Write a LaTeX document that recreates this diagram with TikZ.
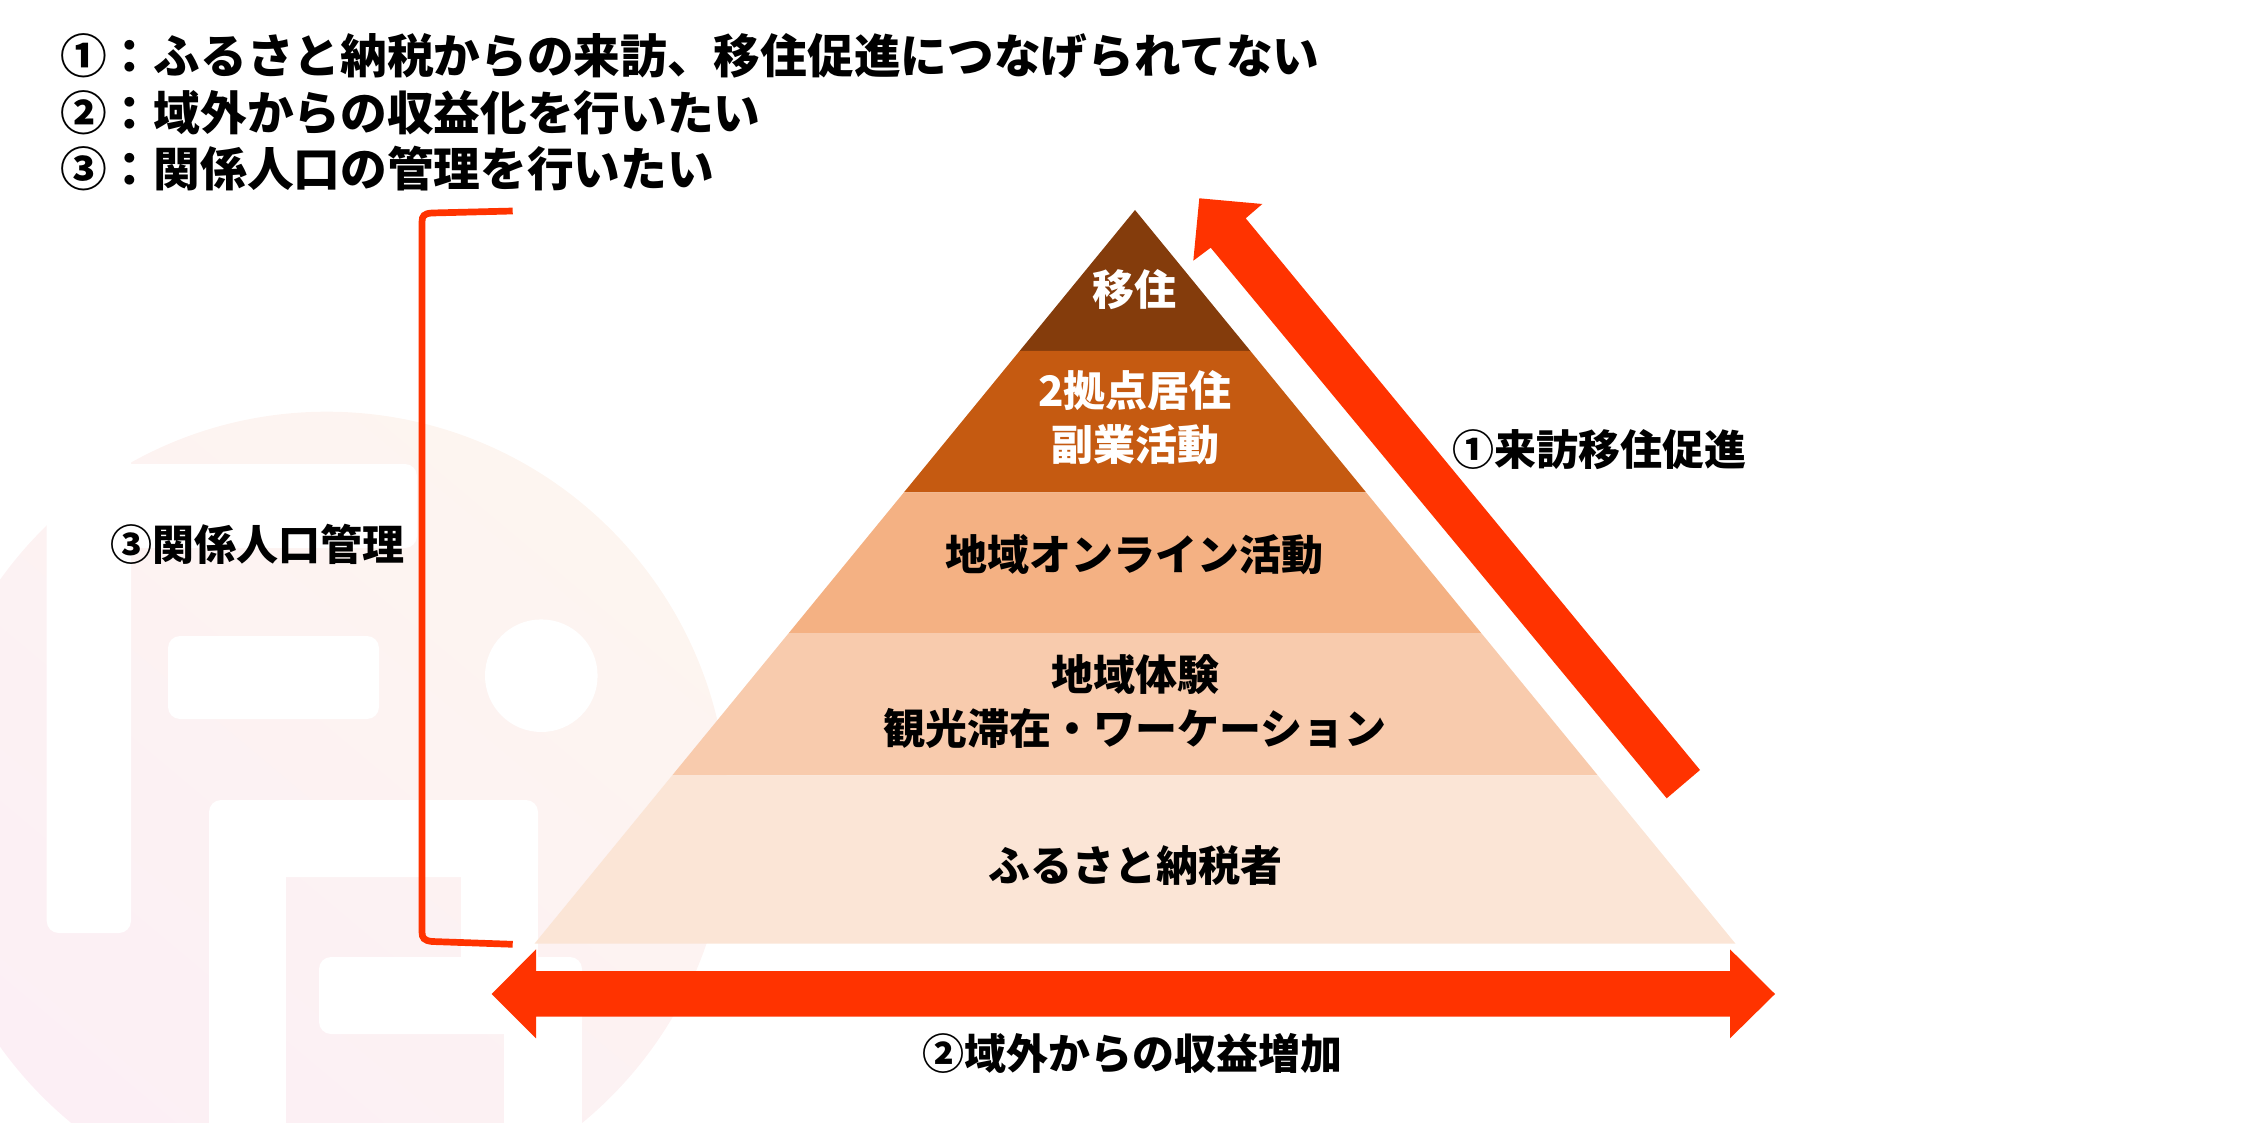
\documentclass[tikz,border=0pt]{standalone}
\usepackage{fontspec}
\newfontfamily\jp{Noto Sans CJK JP}
\definecolor{arrowred}{HTML}{FF3300}
\definecolor{layA}{HTML}{843C0C}
\definecolor{layB}{HTML}{C55A11}
\definecolor{layC}{HTML}{F4B183}
\definecolor{layD}{HTML}{F8CBAD}
\definecolor{layE}{HTML}{FBE5D6}
\definecolor{logopeach}{RGB}{253,245,240}
\definecolor{logopink}{RGB}{252,239,245}
\begin{document}
\begin{tikzpicture}[x=1pt,y=-1pt,
  headtext/.style={font=\jp\bfseries\fontsize{46.7}{56}\selectfont, anchor=west, inner sep=0pt},
  lbltext/.style={font=\jp\bfseries\fontsize{42}{54}\selectfont, inner sep=0pt, align=center},
  logohole/.style={fill=white},
  bigarrow/.style={fill=arrowred}]
\useasboundingbox (0,0) rectangle (2247,1123);
\clip (0,0) rectangle (2247,1123);

% background logo
\shade[top color=logopeach, bottom color=logopink, shading angle=-40] (326.7,813.2) circle[radius=401.5];
\fill[logohole, rounded corners=12] (46.7,380) rectangle (131,933);
\fill[logohole, rounded corners=12] (100,464) rectangle (417,548);
\fill[logohole, rounded corners=12] (168,636) rectangle (379,719);
\fill[logohole] (541.3,675.7) circle[radius=56.3];
\fill[logohole, rounded corners=12] (209,800) rectangle (538,877);
\fill[logohole] (209,840) rectangle (286,1130);
\fill[logohole] (461,840) rectangle (538,970);
\fill[logohole, rounded corners=12] (319,957) rectangle (582,1034);
\fill[logohole] (504,1000) rectangle (582,1130);

% headings
\node[headtext] (h1) at (60,56) {①：ふるさと納税からの来訪、移住促進につなげられてない};
\node[headtext] (h2) at (60,113) {②：域外からの収益化を行いたい};
\node[headtext] (h3) at (60,169) {③：関係人口の管理を行いたい};

% pyramid
\fill[layA] (1135,210) -- (1250.4,351) -- (1019.6,351) -- cycle;
\fill[layB] (1019.6,351) -- (1250.4,351) -- (1366.1,492.4) -- (903.9,492.4) -- cycle;
\fill[layC] (903.9,492.4) -- (1366.1,492.4) -- (1481.6,633.5) -- (788.4,633.5) -- cycle;
\fill[layD] (788.4,633.5) -- (1481.6,633.5) -- (1597.8,775.4) -- (672.2,775.4) -- cycle;
\fill[layE] (672.2,775.4) -- (1597.8,775.4) -- (1735.5,943.7) -- (534.5,943.7) -- cycle;

\node[lbltext, text=white] (p1) at (1134,290) {移住};
\node[lbltext, text=white] (p2) at (1135,418) {2拠点居住\\副業活動};
\node[lbltext] (p3) at (1134,555) {地域オンライン活動};
\node[lbltext] (p4) at (1135,702) {地域体験\\観光滞在・ワーケーション};
\node[lbltext] (p5) at (1135,865.5) {ふるさと納税者};

% up arrow
\fill[bigarrow] (1666.7,798.3) -- (1210.7,247.7) -- (1193.3,260.7) -- (1199.3,198.3)
  -- (1262.3,204) -- (1245.7,218.3) -- (1700,770) -- cycle;
\node[lbltext] (l1) at (1599,450) {①来訪移住促進};

% double arrow
\fill[bigarrow] (491.7,994) -- (536,949.3) -- (536,971) -- (1730,971) -- (1730,949.3)
  -- (1775,994) -- (1730,1038.3) -- (1730,1016.7) -- (536,1016.7) -- (536,1038.3) -- cycle;
\node[lbltext] (l2) at (1132,1053) {②域外からの収益増加};

% bracket
\draw[arrowred, line width=6.7] (512.7,211) -- (432,213) .. controls (424,213.5) and (422,216) .. (422,222)
  -- (422,932) .. controls (422,938) and (424,940.5) .. (432,941.5) -- (512.7,944.3);
\node[lbltext] (l3) at (257,544.5) {③関係人口管理};
\end{tikzpicture}
\end{document}
